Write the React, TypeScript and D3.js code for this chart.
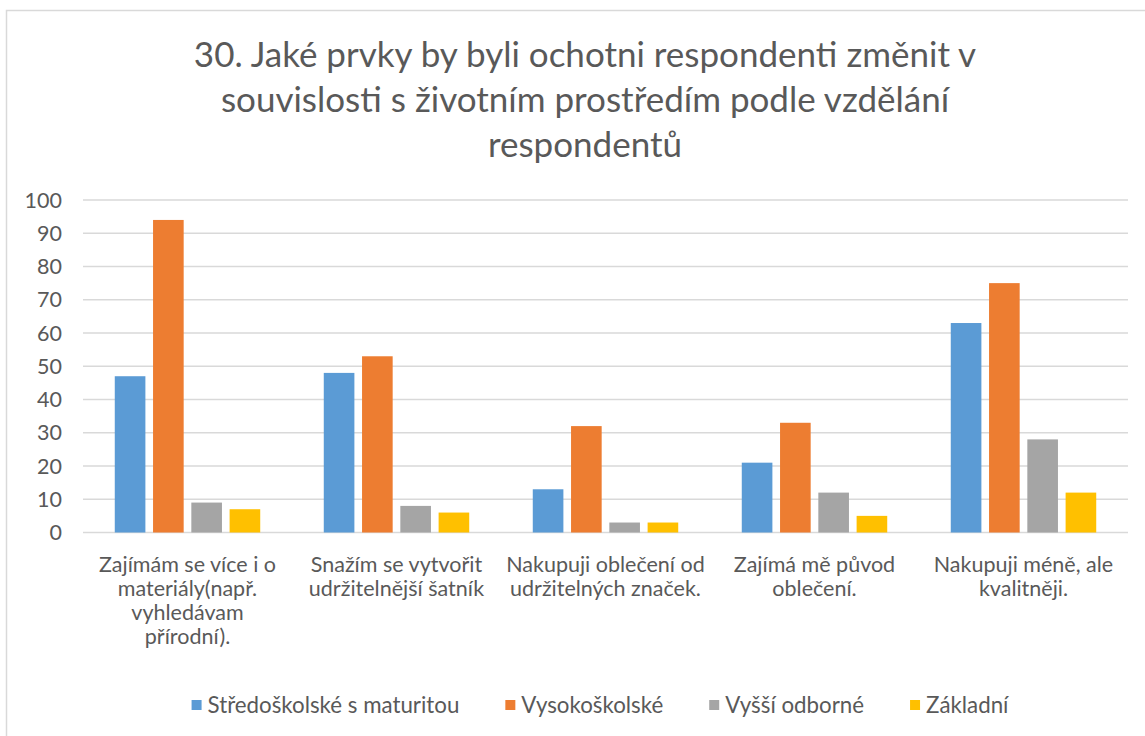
import React from "react";
import * as d3 from "d3";

const categories = [
  "Zajímám se více i o\nmateriály(např.\nvyhledávam\npřírodní).",
  "Snažím se vytvořit\nudržitelnější šatník",
  "Nakupuji oblečení od\nudržitelných značek.",
  "Zajímá mě původ\noblečení.",
  "Nakupuji méně, ale\nkvalitněji.",
];
const seriesNames = ["Středoškolské s maturitou", "Vysokoškolské", "Vyšší odborné", "Základní"];
const stredoskolske = [47, 48, 13, 21, 63];
const vysokoskolske = [94, 53, 32, 33, 75];
const vyssiOdborne = [9, 8, 3, 12, 28];
const zakladni = [7, 6, 3, 5, 12];
const seriesValues = [stredoskolske, vysokoskolske, vyssiOdborne, zakladni];
const colors = ["#5B9BD5", "#ED7D31", "#A5A5A5", "#FFC000"];
const yTicks = [0, 10, 20, 30, 40, 50, 60, 70, 80, 90, 100];
const titleLines = [
  "30. Jaké prvky by byli ochotni respondenti změnit v",
  "souvislosti s životním prostředím podle vzdělání",
  "respondentů",
];

const FONT = "Lato, 'Open Sans', sans-serif";
const TEXT = "#595959";

function measure(text: string, size: number): number {
  const c = document.createElement("canvas");
  const ctx = c.getContext("2d");
  if (!ctx) return text.length * size * 0.5;
  ctx.font = `${size}px Lato`;
  return ctx.measureText(text).width;
}

export default function App() {
  const W = 1145, H = 736;
  const left = 83, right = 1128, top = 200, bottom = 532.5;
  const x = d3.scaleBand<string>().domain(categories).range([left, right]).paddingInner(0).paddingOuter(0);
  const bw = x.bandwidth();
  const outer = bw * 0.152;
  const xs = d3.scaleBand<string>().domain(seriesNames).range([outer, bw - outer]).paddingInner(0.2).paddingOuter(0);
  const y = d3.scaleLinear().domain([0, 100]).range([bottom, top]);

  const fs = 21.5;
  const legendFont = 22.3;
  const sq = 10, gapSq = 6, spacing = 46;
  const widths = seriesNames.map((s) => measure(s, legendFont));
  const total = widths.reduce((a, w) => a + sq + gapSq + w, 0) + spacing * (seriesNames.length - 1);
  let lx = 600 - total / 2;
  const legendItems = seriesNames.map((s, i) => {
    const item = { name: s, x: lx, color: colors[i] };
    lx += sq + gapSq + widths[i] + spacing;
    return item;
  });

  return (
    <svg width={W} height={H} style={{ position: "absolute", left: 0, top: 0, display: "block", background: "#fff" }} fontFamily={FONT}>
      <rect x={6.5} y={10.5} width={1200} height={800} fill="#fff" stroke="#d9d9d9" strokeWidth={1.5} />
      {titleLines.map((t, i) => (
        <text key={i} x={585} y={67 + i * 45} textAnchor="middle" fontSize={35} fill={TEXT}>{t}</text>
      ))}
      {yTicks.map((t) => (
        <g key={t}>
          <line x1={left} x2={right} y1={y(t)} y2={y(t)} stroke="#d9d9d9" strokeWidth={1.3} />
          <text x={62} y={y(t)} dy="0.36em" textAnchor="end" fontSize={fs} fill={TEXT}>{t}</text>
        </g>
      ))}
      {categories.map((c, ci) => (
        <g key={c} transform={`translate(${x(c)},0)`}>
          {seriesNames.map((s, si) => {
            const v = seriesValues[si][ci];
            return <rect key={s} x={xs(s)} y={y(v)} width={xs.bandwidth()} height={y(0) - y(v)} fill={colors[si]} />;
          })}
          {c.split("\n").map((line, li) => (
            <text key={li} x={bw / 2} y={572 + li * 24} textAnchor="middle" fontSize={fs} fill={TEXT}>{line}</text>
          ))}
        </g>
      ))}
      {legendItems.map((it) => (
        <g key={it.name}>
          <rect x={it.x} y={700} width={sq} height={sq} fill={it.color} />
          <text x={it.x + sq + gapSq} y={705} dy="0.36em" fontSize={legendFont} fill={TEXT}>{it.name}</text>
        </g>
      ))}
    </svg>
  );
}
